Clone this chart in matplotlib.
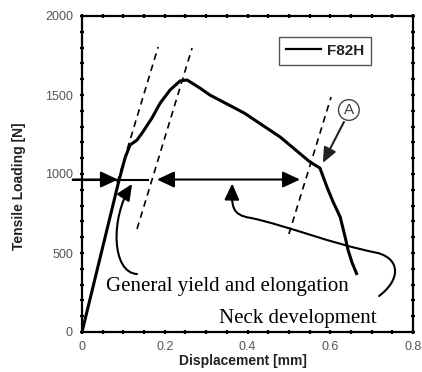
import numpy as np
import matplotlib
matplotlib.use("Agg")
import matplotlib.pyplot as plt
from matplotlib.path import Path
from matplotlib.patches import FancyArrowPatch
from matplotlib.lines import Line2D

# ---- data ----
disp_mm = [0.0, 0.088, 0.104, 0.116, 0.133, 0.147, 0.169, 0.189, 0.213, 0.237,
           0.254, 0.285, 0.309, 0.392, 0.479, 0.551, 0.575, 0.592, 0.607, 0.624,
           0.636, 0.643, 0.653, 0.665]
load_N = [0, 945, 1101, 1183, 1215, 1266, 1354, 1449, 1532, 1589,
          1595, 1544, 1500, 1386, 1234, 1076, 1038, 918, 823, 728,
          601, 519, 437, 361]
series_name = "F82H"

# dashed offset (elastic-slope) guide lines: [x0, x1], [y0, y1]
guide1_x = [0.085, 0.184]; guide1_y = [945, 1804]
guide2_x = [0.133, 0.266]; guide2_y = [652, 1797]
guide3_x = [0.500, 0.602]; guide3_y = [620, 1487]

x_ticks = [0, 0.2, 0.4, 0.6, 0.8]
x_ticklabels = ["0", "0.2", "0.4", "0.6", "0.8"]
y_ticks = [0, 500, 1000, 1500, 2000]
y_ticklabels = ["0", "500", "1000", "1500", "2000"]

x_label = "Displacement [mm]"
y_label = "Tensile Loading [N]"
text_yield = "General yield and elongation"
text_neck = "Neck development"
text_A = "A"

# ---- figure ----
fig = plt.figure(figsize=(4.22, 3.72), dpi=100)
ax = fig.add_axes([82/422, 40/372, 331/422, 316/372])
ax.set_xlim(0, 0.8)
ax.set_ylim(0, 2000)

sans = "Liberation Sans"
serif = "Liberation Serif"

ax.plot(disp_mm, load_N, color="black", lw=2.2, solid_capstyle="butt",
        solid_joinstyle="round", label=series_name, zorder=3)

for gx, gy in [(guide1_x, guide1_y), (guide2_x, guide2_y), (guide3_x, guide3_y)]:
    ax.plot(gx, gy, color="black", lw=1.2, ls=(0, (4, 3)), zorder=2)

# ticks
ax.set_xticks(x_ticks)
ax.set_xticklabels(x_ticklabels)
ax.set_yticks(y_ticks)
ax.set_yticklabels(y_ticklabels)
ax.set_xticks(np.arange(0, 0.8001, 0.05), minor=True)
ax.set_yticks(np.arange(0, 2001, 100), minor=True)
ax.tick_params(which="both", direction="inout", top=True, right=True,
               length=3, width=1.6, color="black")
ax.tick_params(which="major", labelsize=9, labelcolor="#555555", pad=5)
for lab in ax.get_xticklabels() + ax.get_yticklabels():
    lab.set_family(sans)
for sp in ax.spines.values():
    sp.set_linewidth(1.6)

ax.set_xlabel(x_label, fontsize=10, fontweight="bold", family=sans, color="#222222")
ax.set_ylabel(y_label, fontsize=10, fontweight="bold", family=sans, color="#222222")
ax.xaxis.set_label_coords(0.486, -0.07)
ax.yaxis.set_label_coords(-0.17, 0.46)

# legend
handle = Line2D([], [], color="black", lw=1.6)
leg = ax.legend([handle], [series_name], loc="upper right",
                bbox_to_anchor=(0.873, 0.934), borderaxespad=0,
                frameon=True, fancybox=False,
                edgecolor="#555555", framealpha=1, handlelength=2.3,
                handletextpad=0.35, borderpad=0.45,
                prop={"family": sans, "weight": "bold", "size": 11})
leg.get_frame().set_linewidth(1.0)
for t in leg.get_texts():
    t.set_color("#222222")

# horizontal arrows at ~965 N
y_arrow = 965
head = "-|>,head_length=0.75,head_width=0.35"
ms = 14
ax.plot([-0.022, 0.160], [y_arrow, y_arrow], color="black", lw=1.5, clip_on=False, zorder=4)
ax.annotate("", xy=(0.087, y_arrow), xytext=(-0.022, y_arrow),
            arrowprops=dict(arrowstyle=head, mutation_scale=ms, color="black",
                            lw=1.5, shrinkA=0, shrinkB=0), annotation_clip=False, zorder=5)
ax.annotate("", xy=(0.527, y_arrow), xytext=(0.181, y_arrow),
            arrowprops=dict(arrowstyle="<|-|>,head_length=0.75,head_width=0.35",
                            mutation_scale=ms, color="black", lw=1.5,
                            shrinkA=0, shrinkB=0), zorder=5)

# curved arrow: general yield
verts_g = [(0.133, 367), (0.072, 375), (0.068, 720), (0.121, 937)]
codes_g = [Path.MOVETO, Path.CURVE4, Path.CURVE4, Path.CURVE4]
ax.add_patch(FancyArrowPatch(path=Path(verts_g, codes_g),
                             arrowstyle="-|>,head_length=0.7,head_width=0.32",
                             mutation_scale=ms, color="black", lw=1.5,
                             transform=ax.transData, zorder=5))

# curved arrow: neck development
verts_n = [(0.718, 228), (0.77, 330), (0.77, 460), (0.715, 500),
           (0.60, 560), (0.50, 670), (0.408, 722),
           (0.36, 740), (0.362, 800), (0.363, 940)]
codes_n = [Path.MOVETO] + [Path.CURVE4] * 9
ax.add_patch(FancyArrowPatch(path=Path(verts_n, codes_n),
                             arrowstyle="-|>,head_length=0.7,head_width=0.32",
                             mutation_scale=ms, color="black", lw=1.5,
                             transform=ax.transData, zorder=5, clip_on=False))

# (A) marker and arrow
ax.text(0.645, 1405, text_A, fontsize=11, family=sans, color="#444444",
        ha="center", va="center",
        bbox=dict(boxstyle="circle,pad=0.22", fc="white", ec="#444444", lw=1.0))
ax.annotate("", xy=(0.582, 1070), xytext=(0.633, 1329),
            arrowprops=dict(arrowstyle="-|>,head_length=0.65,head_width=0.28",
                            mutation_scale=ms, color="#222222", lw=1.5,
                            shrinkA=0, shrinkB=0), zorder=5)

# text labels
ax.text(0.058, 259, text_yield, fontsize=15, family=serif, color="black",
        ha="left", va="baseline", zorder=6)
ax.text(0.331, 57, text_neck, fontsize=15, family=serif, color="black",
        ha="left", va="baseline", zorder=6)

fig.savefig("out.png", dpi=100)
